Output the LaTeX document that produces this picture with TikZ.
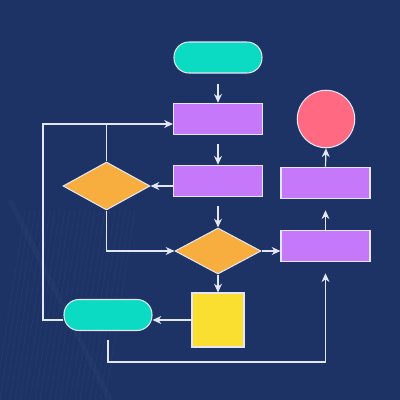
\documentclass[tikz,border=0pt]{standalone}
\usetikzlibrary{shapes.geometric, arrows.meta}
\definecolor{navy}{HTML}{1D3366}
\definecolor{mint}{HTML}{0BDBC3}
\definecolor{lilac}{HTML}{C678FA}
\definecolor{amber}{HTML}{F8AE3E}
\definecolor{lemon}{HTML}{FADF30}
\definecolor{rose}{HTML}{FF6A82}
\definecolor{edge}{HTML}{E4E6F4}
\tikzstyle{whterm} = [rectangle, rounded corners=0.3cm,
minimum width=1.76cm,
minimum height=0.62cm,
fill=mint, draw=edge, line width=0.6pt]
\tikzstyle{whproc} = [rectangle,
minimum width=1.78cm,
minimum height=0.63cm,
fill=lilac, draw=edge, line width=0.6pt]
\tikzstyle{whdec} = [diamond, inner sep=0pt,
minimum width=1.72cm,
minimum height=0.92cm,
fill=amber, draw=edge, line width=0.6pt]
\tikzstyle{whsquare} = [rectangle,
minimum width=1.04cm,
minimum height=1.08cm,
fill=lemon, draw=edge, line width=0.6pt]
\tikzstyle{whstop} = [circle, minimum size=1.15cm,
fill=rose, draw=edge, line width=0.6pt]
\tikzstyle{link} = [draw=edge, line width=0.7pt]

\begin{document}
\begin{tikzpicture}[x=0.02cm, y=-0.02cm, >={Stealth[length=5pt, width=4.5pt, inset=1.6pt]}]
		\useasboundingbox (0,0) rectangle (400,400);
		\fill[navy] (0,0) rectangle (400,400);
		% faint streaks in the background
		\begin{scope}
			\clip (0,0) rectangle (400,400);
			\foreach \i in {0,...,22}
				\draw[white, opacity=0.03, line width=0.4pt] ({\i*5+25},210) -- ({\i*5-5},400);
			\draw[white, opacity=0.025, line width=3pt] (10,200) -- (110,400);
		\end{scope}
		
		\node (start) [whterm] at (218,57.5) {};
		\node (p1) [whproc] at (218,119) {};
		\node (p2) [whproc] at (218,181) {};
		\node (d1) [whdec, minimum width=1.74cm, minimum height=0.96cm] at (106.5,186) {};
		\node (d2) [whdec] at (218,251) {};
		\node (sq) [whsquare] at (218,320) {};
		\node (term) [whterm] at (108,315) {};
		\node (p3) [whproc] at (325.5,246) {};
		\node (p4) [whproc] at (325.5,183) {};
		\node (stop) [whstop] at (326,119) {};
		\coordinate (lt) at (43,124);
		\coordinate (lb) at (43,320);
		\coordinate (bt) at (108,362);
		
		\draw [->, link, shorten <=0.2cm](start) -- (p1);
		\draw [->, link, shorten <=0.18cm](p1) -- (p2);
		\draw [->, link, shorten <=0.18cm](p2) -- (d2);
		\draw [->, link](d1.east -| p2.west) -- (d1.east);
		\draw [link](d1.north) -- (d1.north |- lt);
		\draw [->, link](term.west |- lb) -- (lb) -- (lt) -- (lt -| p1.west);
		\draw [->, link](d1.south) |- (d2.west);
		\draw [->, link](d2.east) -- (d2.east -| p3.west);
		\draw [->, link](d2.south) -- (sq.north);
		\draw [->, link](sq.west) -- (sq.west -| term.east);
		\draw [->, link, shorten <=0.18cm, shorten >=0.22cm](term.south) -- (bt) -| (p3.south);
		\draw [->, link, shorten >=0.22cm](p3.north) -- (p4.south);
		\draw [->, link](p4.north) -- (stop.south);
	\end{tikzpicture}
\end{document}
